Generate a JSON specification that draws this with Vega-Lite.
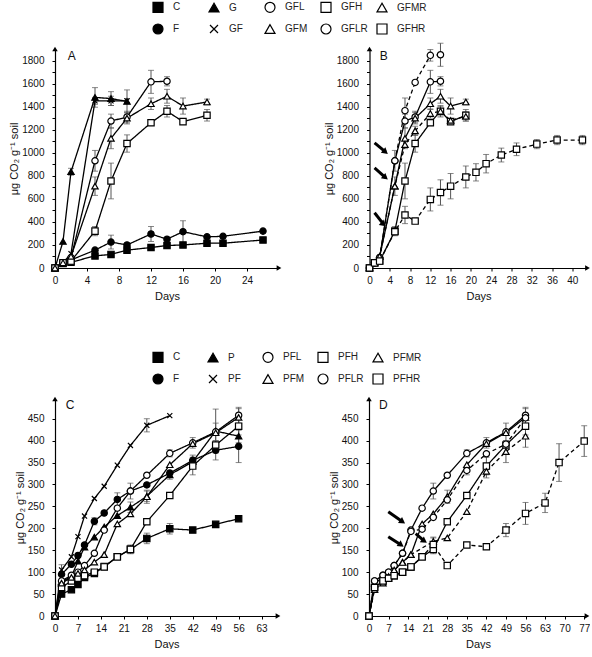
{
  "$schema": "https://vega.github.io/schema/vega-lite/v6.json",
  "padding": {"left": 8, "top": 1, "right": 0, "bottom": 0},
  "background": "white",
  "config": {
    "view": {"stroke": null},
    "font": "Liberation Sans",
    "axis": {"domainColor": "black", "domainWidth": 1.2, "tickColor": "black", "tickWidth": 1, "tickSize": 3, "labelFont": "Liberation Sans", "labelFontSize": 10, "labelColor": "#111", "titleFont": "Liberation Sans", "titleFontWeight": "normal", "titleColor": "#111", "grid": false},
    "axisX": {"labelPadding": 4, "titleFontSize": 11, "titlePadding": 5},
    "axisY": {"labelPadding": 8, "titleFontSize": 11, "titlePadding": 2}
  },
  "datasets": {
    "arrows": [
      {"p": "B", "x1": 1.0, "y1": 1085, "x2": 3.15, "y2": 1007},
      {"p": "B", "x1": 1.0, "y1": 868, "x2": 3.15, "y2": 784},
      {"p": "B", "x1": 1.0, "y1": 479, "x2": 2.75, "y2": 380},
      {"p": "D", "x1": 6.9, "y1": 238, "x2": 12.0, "y2": 215},
      {"p": "D", "x1": 6.9, "y1": 181, "x2": 11.5, "y2": 162},
      {"p": "D", "x1": 16.7, "y1": 188, "x2": 19.8, "y2": 171}
    ],
    "pts": [
      {"p":"A","s":"C","d":0,"v":0},{"p":"A","s":"C","d":1,"v":40},{"p":"A","s":"C","d":2,"v":50},{"p":"A","s":"C","d":5,"v":105},{"p":"A","s":"C","d":7,"v":118},{"p":"A","s":"C","d":9,"v":155},{"p":"A","s":"C","d":12,"v":178},{"p":"A","s":"C","d":14,"v":195},{"p":"A","s":"C","d":16,"v":200},{"p":"A","s":"C","d":19,"v":215},{"p":"A","s":"C","d":21,"v":215},{"p":"A","s":"C","d":26,"v":243},
      {"p":"A","s":"F","d":0,"v":0},{"p":"A","s":"F","d":1,"v":42},{"p":"A","s":"F","d":2,"v":70},{"p":"A","s":"F","d":5,"v":155},{"p":"A","s":"F","d":7,"v":225,"e":60},{"p":"A","s":"F","d":9,"v":200},{"p":"A","s":"F","d":12,"v":295,"e":65},{"p":"A","s":"F","d":14,"v":250},{"p":"A","s":"F","d":16,"v":315,"e":95},{"p":"A","s":"F","d":19,"v":270},{"p":"A","s":"F","d":21,"v":275},{"p":"A","s":"F","d":26,"v":320},
      {"p":"A","s":"G","d":0,"v":0},{"p":"A","s":"G","d":1,"v":230},{"p":"A","s":"G","d":2,"v":835,"e":30},{"p":"A","s":"G","d":5,"v":1480,"e":85},{"p":"A","s":"G","d":7,"v":1470,"e":60},{"p":"A","s":"G","d":9,"v":1445,"e":100},
      {"p":"A","s":"GF","d":0,"v":0},{"p":"A","s":"GF","d":1,"v":45},{"p":"A","s":"GF","d":2,"v":125},{"p":"A","s":"GF","d":5,"v":1450,"e":30},{"p":"A","s":"GF","d":7,"v":1450,"e":40},{"p":"A","s":"GF","d":9,"v":1450,"e":20},
      {"p":"A","s":"GFL","d":0,"v":0},{"p":"A","s":"GFL","d":1,"v":45},{"p":"A","s":"GFL","d":2,"v":90},{"p":"A","s":"GFL","d":5,"v":930,"e":90},{"p":"A","s":"GFL","d":7,"v":1275,"e":60},{"p":"A","s":"GFL","d":9,"v":1310,"e":50},{"p":"A","s":"GFL","d":12,"v":1615,"e":100},{"p":"A","s":"GFL","d":14,"v":1620,"e":40},
      {"p":"A","s":"GFH","d":0,"v":0},{"p":"A","s":"GFH","d":1,"v":45},{"p":"A","s":"GFH","d":2,"v":60},{"p":"A","s":"GFH","d":5,"v":320,"e":40},{"p":"A","s":"GFH","d":7,"v":755,"e":155},{"p":"A","s":"GFH","d":9,"v":1080,"e":75},{"p":"A","s":"GFH","d":12,"v":1260},{"p":"A","s":"GFH","d":14,"v":1360,"e":50},{"p":"A","s":"GFH","d":16,"v":1270},{"p":"A","s":"GFH","d":19,"v":1325,"e":50},
      {"p":"A","s":"GFM","d":0,"v":0},{"p":"A","s":"GFM","d":1,"v":45},{"p":"A","s":"GFM","d":2,"v":100},{"p":"A","s":"GFM","d":5,"v":710,"e":80},{"p":"A","s":"GFM","d":7,"v":1125,"e":90},{"p":"A","s":"GFM","d":9,"v":1300,"e":50},{"p":"A","s":"GFM","d":12,"v":1425,"e":50},{"p":"A","s":"GFM","d":14,"v":1490,"e":60},{"p":"A","s":"GFM","d":16,"v":1405,"e":70},{"p":"A","s":"GFM","d":19,"v":1440,"e":25},

      {"p":"B","s":"GFL","d":0,"v":0},{"p":"B","s":"GFL","d":1,"v":45},{"p":"B","s":"GFL","d":2,"v":90},{"p":"B","s":"GFL","d":5,"v":930,"e":90},{"p":"B","s":"GFL","d":7,"v":1275,"e":60},{"p":"B","s":"GFL","d":9,"v":1310,"e":50},{"p":"B","s":"GFL","d":12,"v":1615,"e":100},{"p":"B","s":"GFL","d":14,"v":1620,"e":40},
      {"p":"B","s":"GFH","d":0,"v":0},{"p":"B","s":"GFH","d":1,"v":45},{"p":"B","s":"GFH","d":2,"v":60},{"p":"B","s":"GFH","d":5,"v":320,"e":40},{"p":"B","s":"GFH","d":7,"v":755,"e":155},{"p":"B","s":"GFH","d":9,"v":1080,"e":75},{"p":"B","s":"GFH","d":12,"v":1260},{"p":"B","s":"GFH","d":14,"v":1360,"e":50},{"p":"B","s":"GFH","d":16,"v":1270},{"p":"B","s":"GFH","d":19,"v":1325,"e":50},
      {"p":"B","s":"GFM","d":0,"v":0},{"p":"B","s":"GFM","d":1,"v":45},{"p":"B","s":"GFM","d":2,"v":100},{"p":"B","s":"GFM","d":5,"v":710,"e":80},{"p":"B","s":"GFM","d":7,"v":1125,"e":90},{"p":"B","s":"GFM","d":9,"v":1300,"e":50},{"p":"B","s":"GFM","d":12,"v":1425,"e":50},{"p":"B","s":"GFM","d":14,"v":1490,"e":60},{"p":"B","s":"GFM","d":16,"v":1405,"e":70},{"p":"B","s":"GFM","d":19,"v":1440,"e":25},
      {"p":"B","s":"GFLR","d":0,"v":0},{"p":"B","s":"GFLR","d":1,"v":45},{"p":"B","s":"GFLR","d":2,"v":90},{"p":"B","s":"GFLR","d":5,"v":930},{"p":"B","s":"GFLR","d":7,"v":1365,"e":110},{"p":"B","s":"GFLR","d":9,"v":1610},{"p":"B","s":"GFLR","d":12,"v":1845,"e":50},{"p":"B","s":"GFLR","d":14,"v":1850,"e":100},
      {"p":"B","s":"GFMR","d":0,"v":0},{"p":"B","s":"GFMR","d":1,"v":45},{"p":"B","s":"GFMR","d":2,"v":100},{"p":"B","s":"GFMR","d":5,"v":710},{"p":"B","s":"GFMR","d":7,"v":1070},{"p":"B","s":"GFMR","d":9,"v":1190,"e":40},{"p":"B","s":"GFMR","d":12,"v":1340,"e":40},{"p":"B","s":"GFMR","d":14,"v":1360,"e":40},{"p":"B","s":"GFMR","d":16,"v":1280},{"p":"B","s":"GFMR","d":19,"v":1315,"e":40},
      {"p":"B","s":"GFHR","d":0,"v":0},{"p":"B","s":"GFHR","d":1,"v":45},{"p":"B","s":"GFHR","d":2,"v":60},{"p":"B","s":"GFHR","d":5,"v":315},{"p":"B","s":"GFHR","d":7,"v":460,"e":75},{"p":"B","s":"GFHR","d":9,"v":407},{"p":"B","s":"GFHR","d":12,"v":595,"e":100},{"p":"B","s":"GFHR","d":14,"v":655,"e":110},{"p":"B","s":"GFHR","d":16,"v":710,"e":110},{"p":"B","s":"GFHR","d":19,"v":790,"e":95},{"p":"B","s":"GFHR","d":21,"v":830,"e":75},{"p":"B","s":"GFHR","d":23,"v":905,"e":80},{"p":"B","s":"GFHR","d":26,"v":980,"e":60},{"p":"B","s":"GFHR","d":29,"v":1030,"e":55},{"p":"B","s":"GFHR","d":33,"v":1075,"e":40},{"p":"B","s":"GFHR","d":37,"v":1110,"e":40},{"p":"B","s":"GFHR","d":42,"v":1110,"e":40},

      {"p":"C","s":"C","d":0,"v":0},{"p":"C","s":"C","d":2,"v":50},{"p":"C","s":"C","d":5,"v":60},{"p":"C","s":"C","d":7,"v":72},{"p":"C","s":"C","d":9,"v":88},{"p":"C","s":"C","d":12,"v":97},{"p":"C","s":"C","d":15,"v":113},{"p":"C","s":"C","d":19,"v":135},{"p":"C","s":"C","d":23,"v":152},{"p":"C","s":"C","d":28,"v":177,"e":12},{"p":"C","s":"C","d":35,"v":199,"e":12},{"p":"C","s":"C","d":42,"v":196},{"p":"C","s":"C","d":49,"v":209},{"p":"C","s":"C","d":56,"v":222},
      {"p":"C","s":"F","d":0,"v":0},{"p":"C","s":"F","d":2,"v":95},{"p":"C","s":"F","d":5,"v":118},{"p":"C","s":"F","d":7,"v":138},{"p":"C","s":"F","d":9,"v":162},{"p":"C","s":"F","d":12,"v":216,"e":8},{"p":"C","s":"F","d":15,"v":235},{"p":"C","s":"F","d":19,"v":266,"e":15},{"p":"C","s":"F","d":23,"v":285},{"p":"C","s":"F","d":28,"v":299},{"p":"C","s":"F","d":35,"v":326},{"p":"C","s":"F","d":42,"v":355},{"p":"C","s":"F","d":49,"v":378,"e":22},{"p":"C","s":"F","d":56,"v":387,"e":37},
      {"p":"C","s":"P","d":0,"v":0},{"p":"C","s":"P","d":2,"v":78},{"p":"C","s":"P","d":5,"v":90},{"p":"C","s":"P","d":7,"v":125},{"p":"C","s":"P","d":9,"v":157},{"p":"C","s":"P","d":12,"v":180},{"p":"C","s":"P","d":15,"v":203},{"p":"C","s":"P","d":19,"v":229},{"p":"C","s":"P","d":23,"v":248,"e":12},{"p":"C","s":"P","d":28,"v":273,"e":12},{"p":"C","s":"P","d":35,"v":322,"e":10},{"p":"C","s":"P","d":42,"v":352,"e":15},{"p":"C","s":"P","d":49,"v":422,"e":50},{"p":"C","s":"P","d":56,"v":410,"e":15},
      {"p":"C","s":"PF","d":0,"v":0},{"p":"C","s":"PF","d":2,"v":105,"e":12},{"p":"C","s":"PF","d":5,"v":135},{"p":"C","s":"PF","d":7,"v":181},{"p":"C","s":"PF","d":9,"v":228},{"p":"C","s":"PF","d":12,"v":268},{"p":"C","s":"PF","d":15,"v":296},{"p":"C","s":"PF","d":19,"v":344},{"p":"C","s":"PF","d":23,"v":389},{"p":"C","s":"PF","d":28,"v":435,"e":15},{"p":"C","s":"PF","d":35,"v":457},
      {"p":"C","s":"PFL","d":0,"v":0},{"p":"C","s":"PFL","d":2,"v":80},{"p":"C","s":"PFL","d":5,"v":93},{"p":"C","s":"PFL","d":7,"v":100},{"p":"C","s":"PFL","d":9,"v":115},{"p":"C","s":"PFL","d":12,"v":143},{"p":"C","s":"PFL","d":15,"v":196},{"p":"C","s":"PFL","d":19,"v":246},{"p":"C","s":"PFL","d":23,"v":285,"e":18},{"p":"C","s":"PFL","d":28,"v":321},{"p":"C","s":"PFL","d":35,"v":371,"e":8},{"p":"C","s":"PFL","d":42,"v":395,"e":12},{"p":"C","s":"PFL","d":49,"v":420,"e":20},{"p":"C","s":"PFL","d":56,"v":458,"e":18},
      {"p":"C","s":"PFH","d":0,"v":0},{"p":"C","s":"PFH","d":2,"v":65},{"p":"C","s":"PFH","d":5,"v":80},{"p":"C","s":"PFH","d":7,"v":86},{"p":"C","s":"PFH","d":9,"v":92},{"p":"C","s":"PFH","d":12,"v":100},{"p":"C","s":"PFH","d":15,"v":112},{"p":"C","s":"PFH","d":19,"v":135},{"p":"C","s":"PFH","d":23,"v":152,"e":10},{"p":"C","s":"PFH","d":28,"v":215},{"p":"C","s":"PFH","d":35,"v":275},{"p":"C","s":"PFH","d":42,"v":342,"e":20},{"p":"C","s":"PFH","d":49,"v":390},{"p":"C","s":"PFH","d":56,"v":433,"e":20},
      {"p":"C","s":"PFM","d":0,"v":0},{"p":"C","s":"PFM","d":2,"v":75},{"p":"C","s":"PFM","d":5,"v":88},{"p":"C","s":"PFM","d":7,"v":97},{"p":"C","s":"PFM","d":9,"v":105},{"p":"C","s":"PFM","d":12,"v":123},{"p":"C","s":"PFM","d":15,"v":140},{"p":"C","s":"PFM","d":19,"v":210},{"p":"C","s":"PFM","d":23,"v":233},{"p":"C","s":"PFM","d":28,"v":272,"e":15},{"p":"C","s":"PFM","d":35,"v":345},{"p":"C","s":"PFM","d":42,"v":393},{"p":"C","s":"PFM","d":49,"v":418},{"p":"C","s":"PFM","d":56,"v":453,"e":20},

      {"p":"D","s":"PFL","d":0,"v":0},{"p":"D","s":"PFL","d":2,"v":80},{"p":"D","s":"PFL","d":5,"v":93},{"p":"D","s":"PFL","d":7,"v":100},{"p":"D","s":"PFL","d":9,"v":115},{"p":"D","s":"PFL","d":12,"v":143},{"p":"D","s":"PFL","d":15,"v":196},{"p":"D","s":"PFL","d":19,"v":246},{"p":"D","s":"PFL","d":23,"v":285,"e":18},{"p":"D","s":"PFL","d":28,"v":321},{"p":"D","s":"PFL","d":35,"v":371,"e":8},{"p":"D","s":"PFL","d":42,"v":395,"e":12},{"p":"D","s":"PFL","d":49,"v":420,"e":20},{"p":"D","s":"PFL","d":56,"v":458,"e":18},
      {"p":"D","s":"PFH","d":0,"v":0},{"p":"D","s":"PFH","d":2,"v":65},{"p":"D","s":"PFH","d":5,"v":80},{"p":"D","s":"PFH","d":7,"v":86},{"p":"D","s":"PFH","d":9,"v":92},{"p":"D","s":"PFH","d":12,"v":100},{"p":"D","s":"PFH","d":15,"v":112},{"p":"D","s":"PFH","d":19,"v":135},{"p":"D","s":"PFH","d":23,"v":152,"e":10},{"p":"D","s":"PFH","d":28,"v":215},{"p":"D","s":"PFH","d":35,"v":275},{"p":"D","s":"PFH","d":42,"v":342,"e":20},{"p":"D","s":"PFH","d":49,"v":390},{"p":"D","s":"PFH","d":56,"v":433,"e":20},
      {"p":"D","s":"PFM","d":0,"v":0},{"p":"D","s":"PFM","d":2,"v":75},{"p":"D","s":"PFM","d":5,"v":88},{"p":"D","s":"PFM","d":7,"v":97},{"p":"D","s":"PFM","d":9,"v":105},{"p":"D","s":"PFM","d":12,"v":123},{"p":"D","s":"PFM","d":15,"v":140},{"p":"D","s":"PFM","d":19,"v":210},{"p":"D","s":"PFM","d":23,"v":233},{"p":"D","s":"PFM","d":28,"v":272,"e":15},{"p":"D","s":"PFM","d":35,"v":345},{"p":"D","s":"PFM","d":42,"v":393},{"p":"D","s":"PFM","d":49,"v":418},{"p":"D","s":"PFM","d":56,"v":453,"e":20},
      {"p":"D","s":"PFLR","d":0,"v":0},{"p":"D","s":"PFLR","d":2,"v":80},{"p":"D","s":"PFLR","d":5,"v":93},{"p":"D","s":"PFLR","d":7,"v":100},{"p":"D","s":"PFLR","d":9,"v":115},{"p":"D","s":"PFLR","d":12,"v":143},{"p":"D","s":"PFLR","d":15,"v":193},{"p":"D","s":"PFLR","d":19,"v":198},{"p":"D","s":"PFLR","d":23,"v":225},{"p":"D","s":"PFLR","d":28,"v":265},{"p":"D","s":"PFLR","d":35,"v":332,"e":10},{"p":"D","s":"PFLR","d":42,"v":370},{"p":"D","s":"PFLR","d":49,"v":392},{"p":"D","s":"PFLR","d":56,"v":452},
      {"p":"D","s":"PFMR","d":0,"v":0},{"p":"D","s":"PFMR","d":2,"v":60},{"p":"D","s":"PFMR","d":5,"v":75},{"p":"D","s":"PFMR","d":7,"v":90},{"p":"D","s":"PFMR","d":9,"v":105},{"p":"D","s":"PFMR","d":12,"v":122},{"p":"D","s":"PFMR","d":15,"v":140},{"p":"D","s":"PFMR","d":23,"v":170,"e":10},{"p":"D","s":"PFMR","d":28,"v":178},{"p":"D","s":"PFMR","d":35,"v":238},{"p":"D","s":"PFMR","d":42,"v":330,"e":15},{"p":"D","s":"PFMR","d":49,"v":375,"e":25},{"p":"D","s":"PFMR","d":56,"v":410,"e":25},
      {"p":"D","s":"PFHR","d":0,"v":0},{"p":"D","s":"PFHR","d":2,"v":65},{"p":"D","s":"PFHR","d":5,"v":80},{"p":"D","s":"PFHR","d":7,"v":86},{"p":"D","s":"PFHR","d":9,"v":92},{"p":"D","s":"PFHR","d":12,"v":100},{"p":"D","s":"PFHR","d":15,"v":112},{"p":"D","s":"PFHR","d":19,"v":135},{"p":"D","s":"PFHR","d":23,"v":163,"e":15},{"p":"D","s":"PFHR","d":28,"v":115},{"p":"D","s":"PFHR","d":35,"v":162},{"p":"D","s":"PFHR","d":42,"v":158},{"p":"D","s":"PFHR","d":49,"v":196,"e":15},{"p":"D","s":"PFHR","d":56,"v":234,"e":25},{"p":"D","s":"PFHR","d":63,"v":258,"e":22},{"p":"D","s":"PFHR","d":68,"v":350,"e":43},{"p":"D","s":"PFHR","d":77,"v":399,"e":35}
    ]
  },
  "spacing": 50,
  "resolve": {"scale": {"shape": "independent"}},
  "vconcat": [
    {
      "spacing": 40.5,
      "hconcat": [
        {
          "width": 224, "height": 219,
          "layer": [
            {"data": {"name": "pts"}, "transform": [{"filter": "datum.p == 'A' && datum.e > 0"}], "mark": {"type": "errorbar", "ticks": {"size": 6}, "color": "#555", "thickness": 1},
             "encoding": {
               "x": {"field": "d", "type": "quantitative", "title": "Days", "scale": {"domain": [0, 28], "nice": false, "zero": false}, "axis": {"values": [0, 4, 8, 12, 16, 20, 24], "tickCount": 100, "title": "Days", "format": "d", "labelOverlap": false, "labelFlush": false}},
               "y": {"field": "v", "type": "quantitative", "title": "μg  CO₂  g⁻¹  soil", "scale": {"domain": [0, 1900], "nice": false}, "axis": {"values": [0, 100, 200, 300, 400, 500, 600, 700, 800, 900, 1000, 1100, 1200, 1300, 1400, 1500, 1600, 1700, 1800], "tickCount": 100, "labelExpr": "datum.value % 200 == 0 ? datum.label : ''", "format": "d", "title": "μg  CO₂  g⁻¹  soil", "labelOverlap": false, "labelFlush": false}},
               "yError": {"field": "e"}}},
            {"data": {"name": "pts"}, "transform": [{"filter": "datum.p == 'A'"}], "mark": {"type": "line", "color": "black", "strokeWidth": 1.3},
             "encoding": {
               "x": {"field": "d", "type": "quantitative", "title": "Days", "scale": {"domain": [0, 28], "nice": false, "zero": false}, "axis": {"values": [0, 4, 8, 12, 16, 20, 24], "tickCount": 100, "title": "Days", "format": "d", "labelOverlap": false, "labelFlush": false}},
               "y": {"field": "v", "type": "quantitative", "title": "μg  CO₂  g⁻¹  soil", "scale": {"domain": [0, 1900], "nice": false}, "axis": {"values": [0, 100, 200, 300, 400, 500, 600, 700, 800, 900, 1000, 1100, 1200, 1300, 1400, 1500, 1600, 1700, 1800], "tickCount": 100, "labelExpr": "datum.value % 200 == 0 ? datum.label : ''", "format": "d", "title": "μg  CO₂  g⁻¹  soil", "labelOverlap": false, "labelFlush": false}},
               "detail": {"field": "s"},
               "strokeDash": {"condition": {"test": "indexof(['GFMR','GFLR','GFHR','PFMR','PFLR','PFHR'], datum.s) >= 0", "value": [4, 3]}, "value": [1, 0]}}},
            {"data": {"name": "pts"}, "transform": [{"filter": "datum.p == 'A'"}], "mark": {"type": "point", "filled": true, "stroke": "black", "strokeWidth": 1.2, "size": 40, "opacity": 1},
             "encoding": {
               "x": {"field": "d", "type": "quantitative", "title": "Days", "scale": {"domain": [0, 28], "nice": false, "zero": false}, "axis": {"values": [0, 4, 8, 12, 16, 20, 24], "tickCount": 100, "title": "Days", "format": "d", "labelOverlap": false, "labelFlush": false}},
               "y": {"field": "v", "type": "quantitative", "title": "μg  CO₂  g⁻¹  soil", "scale": {"domain": [0, 1900], "nice": false}, "axis": {"values": [0, 100, 200, 300, 400, 500, 600, 700, 800, 900, 1000, 1100, 1200, 1300, 1400, 1500, 1600, 1700, 1800], "tickCount": 100, "labelExpr": "datum.value % 200 == 0 ? datum.label : ''", "format": "d", "title": "μg  CO₂  g⁻¹  soil", "labelOverlap": false, "labelFlush": false}},
               "shape": {"field": "s", "type": "nominal", "scale": {"domain": ["C","G","GFL","GFH","GFMR","F","GF","GFM","GFLR","GFHR"], "range": ["square","triangle-up","circle","square","triangle-up","circle","M-0.8,-0.8L0.8,0.8M-0.8,0.8L0.8,-0.8","triangle-up","circle","square"]},
                 "legend": {"orient": "none", "legendX": 97, "legendY": -48, "title": null, "direction": "horizontal", "columns": 5, "symbolSize": 100, "symbolStrokeColor": "black", "symbolStrokeWidth": 1.2, "labelFontSize": 10, "labelFont": "Liberation Sans", "labelColor": "#222", "labelOffset": 9, "gridAlign": "all", "columnPadding": 3, "rowPadding": 6, "padding": 0,
                   "encoding": {"symbols": {
                     "shape": {"value": {"expr": "indexof(['C','GFH','PFH'],datum.value)>=0 ? 'M-2.2,0H-0.6M0.6,0H2.2M-0.6,-0.6H0.6V0.6H-0.6Z' : indexof(['F','GFL','PFL'],datum.value)>=0 ? 'M-2.2,0H-0.6M0.6,0H2.2M0.65,0L0.563,0.325L0.325,0.563L0,0.65L-0.325,0.563L-0.563,0.325L-0.65,0L-0.563,-0.325L-0.325,-0.563L0,-0.65L0.325,-0.563L0.563,-0.325Z' : indexof(['G','P','GFM','PFM'],datum.value)>=0 ? 'M-2.2,0H-0.6M0.6,0H2.2M0,-0.7L0.7,0.5L-0.7,0.5Z' : indexof(['GF','PF'],datum.value)>=0 ? 'M-2.2,0H2.2M-0.55,-0.55L0.55,0.55M-0.55,0.55L0.55,-0.55' : indexof(['GFLR','PFLR'],datum.value)>=0 ? 'M-2.2,0H-1.7M-1.3,0H-0.6M0.6,0H1.3M1.7,0H2.2M0.65,0L0.563,0.325L0.325,0.563L0,0.65L-0.325,0.563L-0.563,0.325L-0.65,0L-0.563,-0.325L-0.325,-0.563L0,-0.65L0.325,-0.563L0.563,-0.325Z' : indexof(['GFHR','PFHR'],datum.value)>=0 ? 'M-2.2,0H-1.7M-1.3,0H-0.6M0.6,0H1.3M1.7,0H2.2M-0.6,-0.6H0.6V0.6H-0.6Z' : 'M-2.2,0H-1.7M-1.3,0H-0.6M0.6,0H1.3M1.7,0H2.2M0,-0.7L0.7,0.5L-0.7,0.5Z'"}},
                     "fill": {"value": {"expr": "indexof(['C','F','G','P'],datum.value)>=0 ? 'black' : 'white'"}},
                     "stroke": {"value": "black"},
                     "strokeWidth": {"value": 1.2},
                     "opacity": {"value": 1}
                   }}}},
               "fill": {"condition": {"test": "indexof(['C','F','G','P'], datum.s) >= 0", "value": "black"}, "value": "white"}
             }},
            {"data": {"values": [{}]}, "mark": {"type": "point", "shape": "triangle-right", "filled": true, "color": "black", "size": 30, "opacity": 1}, "encoding": {"x": {"datum": 28, "type": "quantitative", "scale": {"domain": [0, 28], "nice": false, "zero": false}}, "y": {"datum": 0, "type": "quantitative", "scale": {"domain": [0, 1900], "nice": false}}}},
            {"data": {"values": [{}]}, "mark": {"type": "point", "shape": "triangle-up", "filled": true, "color": "black", "size": 30, "opacity": 1}, "encoding": {"x": {"datum": 0, "type": "quantitative", "scale": {"domain": [0, 28], "nice": false, "zero": false}}, "y": {"datum": 1900, "type": "quantitative", "scale": {"domain": [0, 1900], "nice": false}}}},
            {"data": {"values": [{}]}, "mark": {"type": "text", "text": "A", "align": "left", "baseline": "middle", "fontSize": 12, "color": "#111"}, "encoding": {"x": {"datum": 1.6, "type": "quantitative", "scale": {"domain": [0, 28], "nice": false, "zero": false}}, "y": {"datum": 1840, "type": "quantitative", "scale": {"domain": [0, 1900], "nice": false}}}}
          ]
        },
        {
          "width": 218, "height": 219,
          "layer": [
            {"data": {"name": "pts"}, "transform": [{"filter": "datum.p == 'B' && datum.e > 0"}], "mark": {"type": "errorbar", "ticks": {"size": 6}, "color": "#555", "thickness": 1},
             "encoding": {
               "x": {"field": "d", "type": "quantitative", "title": "Days", "scale": {"domain": [0, 43], "nice": false, "zero": false}, "axis": {"values": [0, 4, 8, 12, 16, 20, 24, 28, 32, 36, 40], "tickCount": 100, "title": "Days", "format": "d", "labelOverlap": false, "labelFlush": false}},
               "y": {"field": "v", "type": "quantitative", "title": "μg  CO₂  g⁻¹  soil", "scale": {"domain": [0, 1900], "nice": false}, "axis": {"values": [0, 100, 200, 300, 400, 500, 600, 700, 800, 900, 1000, 1100, 1200, 1300, 1400, 1500, 1600, 1700, 1800], "tickCount": 100, "labelExpr": "datum.value % 200 == 0 ? datum.label : ''", "format": "d", "title": "μg  CO₂  g⁻¹  soil", "labelOverlap": false, "labelFlush": false}},
               "yError": {"field": "e"}}},
            {"data": {"name": "pts"}, "transform": [{"filter": "datum.p == 'B'"}], "mark": {"type": "line", "color": "black", "strokeWidth": 1.3},
             "encoding": {
               "x": {"field": "d", "type": "quantitative", "title": "Days", "scale": {"domain": [0, 43], "nice": false, "zero": false}, "axis": {"values": [0, 4, 8, 12, 16, 20, 24, 28, 32, 36, 40], "tickCount": 100, "title": "Days", "format": "d", "labelOverlap": false, "labelFlush": false}},
               "y": {"field": "v", "type": "quantitative", "title": "μg  CO₂  g⁻¹  soil", "scale": {"domain": [0, 1900], "nice": false}, "axis": {"values": [0, 100, 200, 300, 400, 500, 600, 700, 800, 900, 1000, 1100, 1200, 1300, 1400, 1500, 1600, 1700, 1800], "tickCount": 100, "labelExpr": "datum.value % 200 == 0 ? datum.label : ''", "format": "d", "title": "μg  CO₂  g⁻¹  soil", "labelOverlap": false, "labelFlush": false}},
               "detail": {"field": "s"},
               "strokeDash": {"condition": {"test": "indexof(['GFMR','GFLR','GFHR','PFMR','PFLR','PFHR'], datum.s) >= 0", "value": [4, 3]}, "value": [1, 0]}}},
            {"data": {"name": "pts"}, "transform": [{"filter": "datum.p == 'B'"}], "mark": {"type": "point", "filled": true, "stroke": "black", "strokeWidth": 1.2, "size": 40, "opacity": 1},
             "encoding": {
               "x": {"field": "d", "type": "quantitative", "title": "Days", "scale": {"domain": [0, 43], "nice": false, "zero": false}, "axis": {"values": [0, 4, 8, 12, 16, 20, 24, 28, 32, 36, 40], "tickCount": 100, "title": "Days", "format": "d", "labelOverlap": false, "labelFlush": false}},
               "y": {"field": "v", "type": "quantitative", "title": "μg  CO₂  g⁻¹  soil", "scale": {"domain": [0, 1900], "nice": false}, "axis": {"values": [0, 100, 200, 300, 400, 500, 600, 700, 800, 900, 1000, 1100, 1200, 1300, 1400, 1500, 1600, 1700, 1800], "tickCount": 100, "labelExpr": "datum.value % 200 == 0 ? datum.label : ''", "format": "d", "title": "μg  CO₂  g⁻¹  soil", "labelOverlap": false, "labelFlush": false}},
               "shape": {"field": "s", "type": "nominal", "scale": {"domain": ["C","G","GFL","GFH","GFMR","F","GF","GFM","GFLR","GFHR"], "range": ["square","triangle-up","circle","square","triangle-up","circle","M-0.8,-0.8L0.8,0.8M-0.8,0.8L0.8,-0.8","triangle-up","circle","square"]}},
               "fill": {"condition": {"test": "indexof(['C','F','G','P'], datum.s) >= 0", "value": "black"}, "value": "white"}
             }},
            {"data": {"name": "arrows"}, "transform": [{"filter": "datum.p == 'B'"}], "mark": {"type": "rule", "strokeWidth": 3, "color": "black"}, "encoding": {"x": {"field": "x1", "type": "quantitative", "title": "Days", "scale": {"domain": [0, 43], "nice": false, "zero": false}}, "y": {"field": "y1", "type": "quantitative", "title": "μg  CO₂  g⁻¹  soil", "scale": {"domain": [0, 1900], "nice": false}}, "x2": {"field": "x2"}, "y2": {"field": "y2"}}},
            {"data": {"name": "arrows"}, "transform": [{"filter": "datum.p == 'B'"}], "mark": {"type": "point", "shape": "triangle-right", "angle": 40, "filled": true, "color": "black", "size": 50, "opacity": 1}, "encoding": {"x": {"field": "x2", "type": "quantitative", "title": "Days", "scale": {"domain": [0, 43], "nice": false, "zero": false}}, "y": {"field": "y2", "type": "quantitative", "title": "μg  CO₂  g⁻¹  soil", "scale": {"domain": [0, 1900], "nice": false}}}},
            {"data": {"values": [{}]}, "mark": {"type": "point", "shape": "triangle-right", "filled": true, "color": "black", "size": 30, "opacity": 1}, "encoding": {"x": {"datum": 43, "type": "quantitative", "scale": {"domain": [0, 43], "nice": false, "zero": false}}, "y": {"datum": 0, "type": "quantitative", "scale": {"domain": [0, 1900], "nice": false}}}},
            {"data": {"values": [{}]}, "mark": {"type": "point", "shape": "triangle-up", "filled": true, "color": "black", "size": 30, "opacity": 1}, "encoding": {"x": {"datum": 0, "type": "quantitative", "scale": {"domain": [0, 43], "nice": false, "zero": false}}, "y": {"datum": 1900, "type": "quantitative", "scale": {"domain": [0, 1900], "nice": false}}}},
            {"data": {"values": [{}]}, "mark": {"type": "text", "text": "B", "align": "left", "baseline": "middle", "fontSize": 12, "color": "#111"}, "encoding": {"x": {"datum": 2.0, "type": "quantitative", "scale": {"domain": [0, 43], "nice": false, "zero": false}}, "y": {"datum": 1840, "type": "quantitative", "scale": {"domain": [0, 1900], "nice": false}}}}
          ]
        }
      ]
    },
    {
      "spacing": 47,
      "hconcat": [
        {
          "width": 223, "height": 217,
          "layer": [
            {"data": {"name": "pts"}, "transform": [{"filter": "datum.p == 'C' && datum.e > 0"}], "mark": {"type": "errorbar", "ticks": {"size": 6}, "color": "#555", "thickness": 1},
             "encoding": {
               "x": {"field": "d", "type": "quantitative", "title": "Days", "scale": {"domain": [0, 68], "nice": false, "zero": false}, "axis": {"values": [0, 7, 14, 21, 28, 35, 42, 49, 56, 63], "tickCount": 100, "title": "Days", "format": "d", "labelOverlap": false, "labelFlush": false}},
               "y": {"field": "v", "type": "quantitative", "title": "μg  CO₂  g⁻¹  soil", "scale": {"domain": [0, 495], "nice": false}, "axis": {"values": [0, 50, 100, 150, 200, 250, 300, 350, 400, 450], "tickCount": 100, "format": "d", "title": "μg  CO₂  g⁻¹  soil", "labelOverlap": false, "labelFlush": false}},
               "yError": {"field": "e"}}},
            {"data": {"name": "pts"}, "transform": [{"filter": "datum.p == 'C'"}], "mark": {"type": "line", "color": "black", "strokeWidth": 1.3},
             "encoding": {
               "x": {"field": "d", "type": "quantitative", "title": "Days", "scale": {"domain": [0, 68], "nice": false, "zero": false}, "axis": {"values": [0, 7, 14, 21, 28, 35, 42, 49, 56, 63], "tickCount": 100, "title": "Days", "format": "d", "labelOverlap": false, "labelFlush": false}},
               "y": {"field": "v", "type": "quantitative", "title": "μg  CO₂  g⁻¹  soil", "scale": {"domain": [0, 495], "nice": false}, "axis": {"values": [0, 50, 100, 150, 200, 250, 300, 350, 400, 450], "tickCount": 100, "format": "d", "title": "μg  CO₂  g⁻¹  soil", "labelOverlap": false, "labelFlush": false}},
               "detail": {"field": "s"},
               "strokeDash": {"condition": {"test": "indexof(['GFMR','GFLR','GFHR','PFMR','PFLR','PFHR'], datum.s) >= 0", "value": [4, 3]}, "value": [1, 0]}}},
            {"data": {"name": "pts"}, "transform": [{"filter": "datum.p == 'C'"}], "mark": {"type": "point", "filled": true, "stroke": "black", "strokeWidth": 1.2, "size": 40, "opacity": 1},
             "encoding": {
               "x": {"field": "d", "type": "quantitative", "title": "Days", "scale": {"domain": [0, 68], "nice": false, "zero": false}, "axis": {"values": [0, 7, 14, 21, 28, 35, 42, 49, 56, 63], "tickCount": 100, "title": "Days", "format": "d", "labelOverlap": false, "labelFlush": false}},
               "y": {"field": "v", "type": "quantitative", "title": "μg  CO₂  g⁻¹  soil", "scale": {"domain": [0, 495], "nice": false}, "axis": {"values": [0, 50, 100, 150, 200, 250, 300, 350, 400, 450], "tickCount": 100, "format": "d", "title": "μg  CO₂  g⁻¹  soil", "labelOverlap": false, "labelFlush": false}},
               "shape": {"field": "s", "type": "nominal", "scale": {"domain": ["C","P","PFL","PFH","PFMR","F","PF","PFM","PFLR","PFHR"], "range": ["square","triangle-up","circle","square","triangle-up","circle","M-0.8,-0.8L0.8,0.8M-0.8,0.8L0.8,-0.8","triangle-up","circle","square"]},
                 "legend": {"orient": "none", "legendX": 97, "legendY": -48, "title": null, "direction": "horizontal", "columns": 5, "symbolSize": 100, "symbolStrokeColor": "black", "symbolStrokeWidth": 1.2, "labelFontSize": 10, "labelFont": "Liberation Sans", "labelColor": "#222", "labelOffset": 9, "gridAlign": "all", "columnPadding": 3, "rowPadding": 6, "padding": 0,
                   "encoding": {"symbols": {
                     "shape": {"value": {"expr": "indexof(['C','GFH','PFH'],datum.value)>=0 ? 'M-2.2,0H-0.6M0.6,0H2.2M-0.6,-0.6H0.6V0.6H-0.6Z' : indexof(['F','GFL','PFL'],datum.value)>=0 ? 'M-2.2,0H-0.6M0.6,0H2.2M0.65,0L0.563,0.325L0.325,0.563L0,0.65L-0.325,0.563L-0.563,0.325L-0.65,0L-0.563,-0.325L-0.325,-0.563L0,-0.65L0.325,-0.563L0.563,-0.325Z' : indexof(['G','P','GFM','PFM'],datum.value)>=0 ? 'M-2.2,0H-0.6M0.6,0H2.2M0,-0.7L0.7,0.5L-0.7,0.5Z' : indexof(['GF','PF'],datum.value)>=0 ? 'M-2.2,0H2.2M-0.55,-0.55L0.55,0.55M-0.55,0.55L0.55,-0.55' : indexof(['GFLR','PFLR'],datum.value)>=0 ? 'M-2.2,0H-1.7M-1.3,0H-0.6M0.6,0H1.3M1.7,0H2.2M0.65,0L0.563,0.325L0.325,0.563L0,0.65L-0.325,0.563L-0.563,0.325L-0.65,0L-0.563,-0.325L-0.325,-0.563L0,-0.65L0.325,-0.563L0.563,-0.325Z' : indexof(['GFHR','PFHR'],datum.value)>=0 ? 'M-2.2,0H-1.7M-1.3,0H-0.6M0.6,0H1.3M1.7,0H2.2M-0.6,-0.6H0.6V0.6H-0.6Z' : 'M-2.2,0H-1.7M-1.3,0H-0.6M0.6,0H1.3M1.7,0H2.2M0,-0.7L0.7,0.5L-0.7,0.5Z'"}},
                     "fill": {"value": {"expr": "indexof(['C','F','G','P'],datum.value)>=0 ? 'black' : 'white'"}},
                     "stroke": {"value": "black"},
                     "strokeWidth": {"value": 1.2},
                     "opacity": {"value": 1}
                   }}}},
               "fill": {"condition": {"test": "indexof(['C','F','G','P'], datum.s) >= 0", "value": "black"}, "value": "white"}
             }},
            {"data": {"values": [{}]}, "mark": {"type": "point", "shape": "triangle-right", "filled": true, "color": "black", "size": 30, "opacity": 1}, "encoding": {"x": {"datum": 68, "type": "quantitative", "scale": {"domain": [0, 68], "nice": false, "zero": false}}, "y": {"datum": 0, "type": "quantitative", "scale": {"domain": [0, 495], "nice": false}}}},
            {"data": {"values": [{}]}, "mark": {"type": "point", "shape": "triangle-up", "filled": true, "color": "black", "size": 30, "opacity": 1}, "encoding": {"x": {"datum": 0, "type": "quantitative", "scale": {"domain": [0, 68], "nice": false, "zero": false}}, "y": {"datum": 495, "type": "quantitative", "scale": {"domain": [0, 495], "nice": false}}}},
            {"data": {"values": [{}]}, "mark": {"type": "text", "text": "C", "align": "left", "baseline": "middle", "fontSize": 12, "color": "#111"}, "encoding": {"x": {"datum": 3.3, "type": "quantitative", "scale": {"domain": [0, 68], "nice": false, "zero": false}}, "y": {"datum": 482, "type": "quantitative", "scale": {"domain": [0, 495], "nice": false}}}}
          ]
        },
        {
          "width": 218, "height": 217,
          "layer": [
            {"data": {"name": "pts"}, "transform": [{"filter": "datum.p == 'D' && datum.e > 0"}], "mark": {"type": "errorbar", "ticks": {"size": 6}, "color": "#555", "thickness": 1},
             "encoding": {
               "x": {"field": "d", "type": "quantitative", "title": "Days", "scale": {"domain": [0, 78], "nice": false, "zero": false}, "axis": {"values": [0, 7, 14, 21, 28, 35, 42, 49, 56, 63, 70, 77], "tickCount": 100, "title": "Days", "format": "d", "labelOverlap": false, "labelFlush": false}},
               "y": {"field": "v", "type": "quantitative", "title": "μg  CO₂  g⁻¹  soil", "scale": {"domain": [0, 495], "nice": false}, "axis": {"values": [0, 50, 100, 150, 200, 250, 300, 350, 400, 450], "tickCount": 100, "format": "d", "title": "μg  CO₂  g⁻¹  soil", "labelOverlap": false, "labelFlush": false}},
               "yError": {"field": "e"}}},
            {"data": {"name": "pts"}, "transform": [{"filter": "datum.p == 'D'"}], "mark": {"type": "line", "color": "black", "strokeWidth": 1.3},
             "encoding": {
               "x": {"field": "d", "type": "quantitative", "title": "Days", "scale": {"domain": [0, 78], "nice": false, "zero": false}, "axis": {"values": [0, 7, 14, 21, 28, 35, 42, 49, 56, 63, 70, 77], "tickCount": 100, "title": "Days", "format": "d", "labelOverlap": false, "labelFlush": false}},
               "y": {"field": "v", "type": "quantitative", "title": "μg  CO₂  g⁻¹  soil", "scale": {"domain": [0, 495], "nice": false}, "axis": {"values": [0, 50, 100, 150, 200, 250, 300, 350, 400, 450], "tickCount": 100, "format": "d", "title": "μg  CO₂  g⁻¹  soil", "labelOverlap": false, "labelFlush": false}},
               "detail": {"field": "s"},
               "strokeDash": {"condition": {"test": "indexof(['GFMR','GFLR','GFHR','PFMR','PFLR','PFHR'], datum.s) >= 0", "value": [4, 3]}, "value": [1, 0]}}},
            {"data": {"name": "pts"}, "transform": [{"filter": "datum.p == 'D'"}], "mark": {"type": "point", "filled": true, "stroke": "black", "strokeWidth": 1.2, "size": 40, "opacity": 1},
             "encoding": {
               "x": {"field": "d", "type": "quantitative", "title": "Days", "scale": {"domain": [0, 78], "nice": false, "zero": false}, "axis": {"values": [0, 7, 14, 21, 28, 35, 42, 49, 56, 63, 70, 77], "tickCount": 100, "title": "Days", "format": "d", "labelOverlap": false, "labelFlush": false}},
               "y": {"field": "v", "type": "quantitative", "title": "μg  CO₂  g⁻¹  soil", "scale": {"domain": [0, 495], "nice": false}, "axis": {"values": [0, 50, 100, 150, 200, 250, 300, 350, 400, 450], "tickCount": 100, "format": "d", "title": "μg  CO₂  g⁻¹  soil", "labelOverlap": false, "labelFlush": false}},
               "shape": {"field": "s", "type": "nominal", "scale": {"domain": ["C","P","PFL","PFH","PFMR","F","PF","PFM","PFLR","PFHR"], "range": ["square","triangle-up","circle","square","triangle-up","circle","M-0.8,-0.8L0.8,0.8M-0.8,0.8L0.8,-0.8","triangle-up","circle","square"]}},
               "fill": {"condition": {"test": "indexof(['C','F','G','P'], datum.s) >= 0", "value": "black"}, "value": "white"}
             }},
            {"data": {"name": "arrows"}, "transform": [{"filter": "datum.p == 'D'"}], "mark": {"type": "rule", "strokeWidth": 3, "color": "black"}, "encoding": {"x": {"field": "x1", "type": "quantitative", "title": "Days", "scale": {"domain": [0, 78], "nice": false, "zero": false}}, "y": {"field": "y1", "type": "quantitative", "title": "μg  CO₂  g⁻¹  soil", "scale": {"domain": [0, 495], "nice": false}}, "x2": {"field": "x2"}, "y2": {"field": "y2"}}},
            {"data": {"name": "arrows"}, "transform": [{"filter": "datum.p == 'D'"}], "mark": {"type": "point", "shape": "triangle-right", "angle": 35, "filled": true, "color": "black", "size": 50, "opacity": 1}, "encoding": {"x": {"field": "x2", "type": "quantitative", "title": "Days", "scale": {"domain": [0, 78], "nice": false, "zero": false}}, "y": {"field": "y2", "type": "quantitative", "title": "μg  CO₂  g⁻¹  soil", "scale": {"domain": [0, 495], "nice": false}}}},
            {"data": {"values": [{}]}, "mark": {"type": "point", "shape": "triangle-right", "filled": true, "color": "black", "size": 30, "opacity": 1}, "encoding": {"x": {"datum": 78, "type": "quantitative", "scale": {"domain": [0, 78], "nice": false, "zero": false}}, "y": {"datum": 0, "type": "quantitative", "scale": {"domain": [0, 495], "nice": false}}}},
            {"data": {"values": [{}]}, "mark": {"type": "point", "shape": "triangle-up", "filled": true, "color": "black", "size": 30, "opacity": 1}, "encoding": {"x": {"datum": 0, "type": "quantitative", "scale": {"domain": [0, 78], "nice": false, "zero": false}}, "y": {"datum": 495, "type": "quantitative", "scale": {"domain": [0, 495], "nice": false}}}},
            {"data": {"values": [{}]}, "mark": {"type": "text", "text": "D", "align": "left", "baseline": "middle", "fontSize": 12, "color": "#111"}, "encoding": {"x": {"datum": 3.6, "type": "quantitative", "scale": {"domain": [0, 78], "nice": false, "zero": false}}, "y": {"datum": 482, "type": "quantitative", "scale": {"domain": [0, 495], "nice": false}}}}
          ]
        }
      ]
    }
  ]
}
